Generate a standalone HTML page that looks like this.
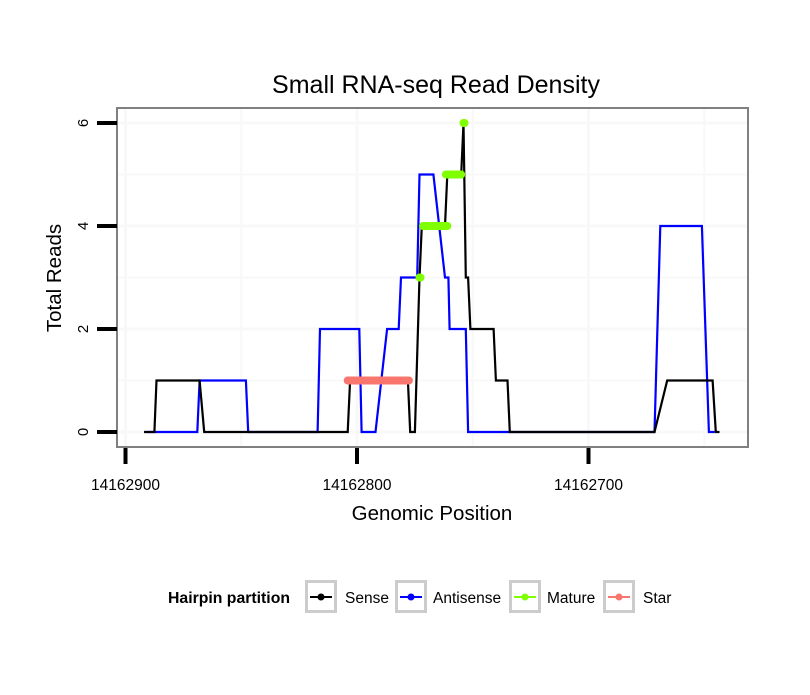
<!DOCTYPE html>
<html><head><meta charset="utf-8"><style>
body{margin:0;background:#fff;font-family:"Liberation Sans",sans-serif}
</style></head><body>
<svg id="chart" width="810" height="690" xmlns="http://www.w3.org/2000/svg">
<rect width="810" height="690" fill="#fff"/>
<text x="436" y="93" text-anchor="middle" font-size="25">Small RNA-seq Read Density</text>
<g id="grid"></g>
<g id="series"></g>
<rect x="117" y="108" width="631" height="339" fill="none" stroke="#808080" stroke-width="2"/>
<g id="axes"></g>
<text x="432" y="520" text-anchor="middle" font-size="20.5">Genomic Position</text>
<text transform="translate(61,278) rotate(-90)" text-anchor="middle" font-size="20.5">Total Reads</text>
<g id="legend"></g>
</svg>
<script>
const xTicks=[14162900,14162800,14162700];
const yTicks=[0,2,4,6];
const sensePos=[14162892,14162887.5,14162886.6,14162868,14162866,14162804,14162803,14162778,14162777,14162775,14162773,14162772,14162762,14162761,14162755,14162754,14162753,14162752,14162751,14162741,14162740,14162735,14162734,14162671.5,14162666,14162646.4,14162645,14162643.4];
const senseVal=[0,0,1,1,0,0,1,1,0,0,3,4,4,5,5,6,3,3,2,2,1,1,0,0,1,1,0,0];
const antiPos=[14162891,14162869,14162868,14162848,14162847,14162817,14162816,14162799,14162798,14162792,14162787,14162782,14162781,14162774,14162773,14162767,14162762,14162760.5,14162760,14162753,14162752,14162671.5,14162669,14162651,14162648,14162645.5];
const antiVal=[0,0,1,1,0,0,2,2,0,0,2,2,3,3,5,5,3,3,2,2,0,0,4,4,0,0];
const matureStart=[14162773,14162771.5,14162761.6,14162754];
const matureEnd=[14162773,14162761,14162755,14162754];
const matureVal=[3,4,5,6];
const starStart=[14162804];
const starEnd=[14162777.6];
const starVal=[1];
const NS="http://www.w3.org/2000/svg";
const X=p=>357+(14162800-p)*2.315;
const Y=v=>432-v*51.5;
function mk(tag,attrs,parent){const e=document.createElementNS(NS,tag);for(const k in attrs)e.setAttribute(k,attrs[k]);parent.appendChild(e);return e;}
const grid=document.getElementById('grid'),series=document.getElementById('series'),axes=document.getElementById('axes'),legend=document.getElementById('legend');
for(let v=0;v<=6;v++){const l=mk('line',{x1:118,x2:747,y1:Y(v),y2:Y(v),stroke:'#f8f8f8','stroke-width':v%2?2:3},grid);

}
for(let p=14162900;p>=14162650;p-=50){const x=X(p);if(x<118||x>747)continue;const l=mk('line',{x1:x,x2:x,y1:109,y2:446,stroke:'#f8f8f8','stroke-width':p%100?2:3},grid);

}
function path(ps,vs,color,name){const d=ps.map((p,i)=>(i?'L':'M')+X(p).toFixed(1)+','+Y(vs[i]).toFixed(1)).join(' ');const e=mk('path',{d:d,fill:'none',stroke:color,'stroke-width':2.2,'stroke-linejoin':'miter'},series);

}
path(antiPos,antiVal,'#0000ff','antisense-line');
path(sensePos,senseVal,'#000000','sense-line');
function segs(s,e,v,color,name){s.forEach((p,i)=>{const l=mk('line',{x1:X(p),x2:X(e[i])+(p===e[i]?1:0),y1:Y(v[i]),y2:Y(v[i]),stroke:color,'stroke-width':8,'stroke-linecap':'round'},series);

});}
segs(starStart,starEnd,starVal,'#f8766d','star-segment');
segs(matureStart,matureEnd,matureVal,'#7fff00','mature-segment');
yTicks.forEach(v=>{const t=mk('line',{x1:97,x2:117,y1:Y(v),y2:Y(v),stroke:'#000','stroke-width':4},axes);


const tx=mk('text',{transform:`translate(88,${Y(v)}) rotate(-90)`,'text-anchor':'middle','font-size':15},axes);tx.textContent=v;

});
xTicks.forEach(p=>{const t=mk('line',{x1:X(p),x2:X(p),y1:448,y2:464,stroke:'#000','stroke-width':4},axes);


const tx=mk('text',{x:X(p),y:490,'text-anchor':'middle','font-size':15.5},axes);tx.textContent=p;

});
const lt=mk('text',{x:168,y:603,'font-size':15.8,'font-weight':'bold'},legend);lt.textContent='Hairpin partition';


const items=[['Sense','#000',305,345],['Antisense','#0000ff',395,433],['Mature','#7fff00',509,547],['Star','#f8766d',603,643]];
items.forEach(it=>{const g=mk('g',{},legend);


mk('rect',{x:it[2]+1.5,y:581.5,width:29,height:30,fill:'#fff',stroke:'#cccccc','stroke-width':3},g);
mk('line',{x1:it[2]+5,x2:it[2]+27,y1:597,y2:597,stroke:it[1],'stroke-width':2},g);
mk('circle',{cx:it[2]+16,cy:597,r:3.5,fill:it[1]},g);
const t=mk('text',{x:it[3],y:603,'font-size':15.5},g);t.textContent=it[0];});
</script>
</body></html>
